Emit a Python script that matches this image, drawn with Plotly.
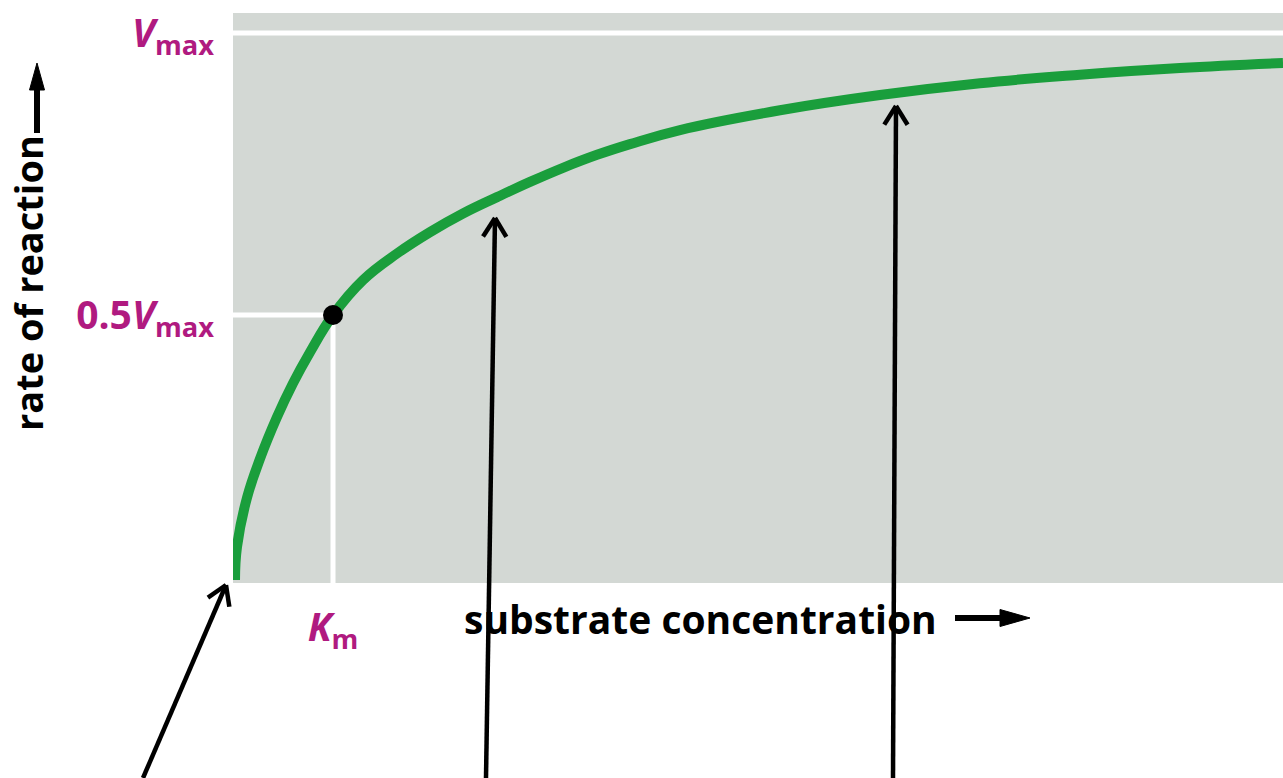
import math
import plotly.graph_objects as go

# substrate concentration in units of Km, rate in units of Vmax
substrate = [0.02, 0.04, 0.14, 0.27, 0.44, 0.60, 0.77, 1.00, 1.30, 1.64,
             1.97, 2.30, 2.64, 2.97, 3.30, 3.64, 3.97, 4.47, 5.47, 6.47,
             7.47, 8.47, 9.47, 10.50]
rate = [0.030, 0.089, 0.176, 0.245, 0.319, 0.379, 0.434, 0.500, 0.562, 0.609,
        0.647, 0.680, 0.709, 0.736, 0.761, 0.784, 0.803, 0.828, 0.863, 0.890,
        0.911, 0.926, 0.938, 0.947]

km = 1.0
vmax = 1.0
half_vmax = 0.5

y_tick_vals = [half_vmax, vmax]
y_tick_text = ["0.5<i>V</i><sub>max</sub>", "<i>V</i><sub>max</sub>"]
x_tick_vals = [km]
x_tick_text = ["<i>K</i><sub>m</sub>"]

X_RANGE = [0, 10.5]
Y_RANGE = [0.0248, 1.0355]

W, H = 1283, 778
ML, MR, MT, MB = 233, 0, 13, 195

MAGENTA = "#b01a80"
GREEN = "#1a9e3c"
PANEL = "#d3d8d4"
FONT = "Open Sans, DejaVu Sans, sans-serif"


def px2paper(px, py):
    return (px - ML) / (W - ML - MR), (H - MB - py) / (H - MT - MB)


def seg(p0, p1, width=4.5, color="black"):
    x0, y0 = px2paper(*p0)
    x1, y1 = px2paper(*p1)
    return dict(type="line", xref="paper", yref="paper", x0=x0, y0=y0, x1=x1, y1=y1,
                line=dict(color=color, width=width), layer="above")


def pointer(tip, tail, arm=22, ang=32):
    # open chevron arrow from tail to tip
    dx, dy = tail[0] - tip[0], tail[1] - tip[1]
    n = math.hypot(dx, dy)
    ux, uy = dx / n, dy / n
    out = [seg(tail, tip)]
    for s in (1, -1):
        a = math.radians(ang * s)
        rx = ux * math.cos(a) - uy * math.sin(a)
        ry = ux * math.sin(a) + uy * math.cos(a)
        out.append(seg(tip, (tip[0] + arm * rx, tip[1] + arm * ry)))
    return out


def solid_arrow(tail, tip, width=6, head_len=30, head_w=17):
    dx, dy = tip[0] - tail[0], tip[1] - tail[1]
    n = math.hypot(dx, dy)
    ux, uy = dx / n, dy / n
    base = (tip[0] - head_len * ux, tip[1] - head_len * uy)
    shaft = seg(tail, base, width=width)
    pts = [tip,
           (base[0] - uy * head_w / 2, base[1] + ux * head_w / 2),
           (base[0] + uy * head_w / 2, base[1] - ux * head_w / 2)]
    pp = [px2paper(*p) for p in pts]
    path = "M {} {} L {} {} L {} {} Z".format(pp[0][0], pp[0][1], pp[1][0], pp[1][1], pp[2][0], pp[2][1])
    head = dict(type="path", xref="paper", yref="paper", path=path,
                fillcolor="black", line=dict(color="black", width=1), layer="above")
    return [shaft, head]


fig = go.Figure()

# white guide lines at Km / 0.5 Vmax
fig.add_trace(go.Scatter(x=[X_RANGE[0], km, km], y=[half_vmax, half_vmax, Y_RANGE[0]],
                         mode="lines", line=dict(color="white", width=5),
                         hoverinfo="skip", showlegend=False))

fig.add_trace(go.Scatter(x=substrate, y=rate, mode="lines",
                         line=dict(color=GREEN, width=10, shape="spline", smoothing=1.2),
                         showlegend=False))

fig.add_trace(go.Scatter(x=[km], y=[half_vmax], mode="markers",
                         marker=dict(color="black", size=20), showlegend=False))

shapes = [dict(type="line", xref="paper", yref="y", x0=0, x1=1, y0=vmax, y1=vmax,
               line=dict(color="white", width=5), layer="below")]

# pointer arrows from below
shapes += pointer((226, 585), (143, 778))
shapes += pointer((495, 218), (486, 778))
shapes += pointer((896, 106), (893, 778))

# axis title arrows
shapes += solid_arrow((955, 618), (1030, 618))
shapes += solid_arrow((37, 133), (37, 63), head_len=27, head_w=15)

bx, _ = px2paper(700, 0)
_, by = px2paper(0, 618)
tx, _ = px2paper(28, 0)
_, ty = px2paper(0, 283)

fig.update_layout(
    width=W, height=H,
    margin=dict(l=ML, r=MR, t=MT, b=MB, pad=0),
    paper_bgcolor="white",
    plot_bgcolor=PANEL,
    shapes=shapes,
    annotations=[
        dict(text="substrate concentration", xref="paper", yref="paper", x=bx, y=by,
             showarrow=False, xanchor="center", yanchor="middle",
             font=dict(family=FONT, size=39, color="black", weight="bold")),
        dict(text="rate of reaction", xref="paper", yref="paper", x=tx, y=ty,
             showarrow=False, xanchor="center", yanchor="middle", textangle=-90,
             font=dict(family=FONT, size=38, color="black", weight="bold")),
    ],
)

fig.update_xaxes(range=X_RANGE, showgrid=False, zeroline=False, showline=False,
                 tickvals=x_tick_vals, ticktext=x_tick_text, ticks="",
                 ticklabelstandoff=18,
                 tickfont=dict(family=FONT, size=39, color=MAGENTA, weight="bold"))
fig.update_yaxes(range=Y_RANGE, showgrid=False, zeroline=False, showline=False,
                 tickvals=y_tick_vals, ticktext=y_tick_text, ticks="",
                 ticklabelstandoff=18,
                 tickfont=dict(family=FONT, size=39, color=MAGENTA, weight="bold"))

fig.write_html("out.html", config={"displayModeBar": False},
               post_script="document.body.style.margin='0px';")
